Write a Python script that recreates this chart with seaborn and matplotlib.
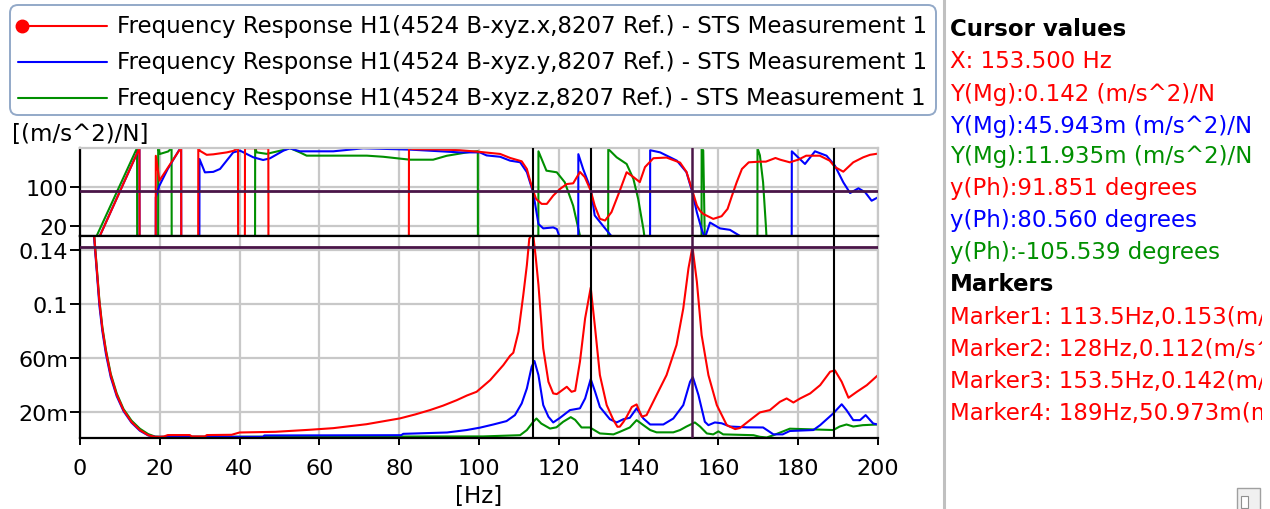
import matplotlib
matplotlib.use("Agg")
import matplotlib.pyplot as plt
import seaborn as sns
from matplotlib.lines import Line2D
from matplotlib.patches import FancyBboxPatch, Rectangle

# ---------------- data ----------------
series_names = [
    "Frequency Response H1(4524 B-xyz.x,8207 Ref.) - STS Measurement 1",
    "Frequency Response H1(4524 B-xyz.y,8207 Ref.) - STS Measurement 1",
    "Frequency Response H1(4524 B-xyz.z,8207 Ref.) - STS Measurement 1",
]
series_colors = ["#ff0000", "#0000ff", "#008f00"]

# magnitude, (m/s^2)/N in milli-units: (Hz, value)
mag_red = [(3.0, 210), (3.5, 152), (4.2, 126), (4.85, 102), (5.6, 82), (6.5, 65), (7.7, 47.5),
           (9.2, 33), (10.9, 21.7), (12.9, 13), (15.0, 7), (17.1, 3.2), (18.8, 2.0), (20.0, 2.0),
           (21.0, 2.2), (22.0, 3.3), (27.5, 3.3), (28.0, 2.3), (31.3, 2.3), (31.8, 3.3), (38.0, 3.5),
           (40.0, 5.2), (49.0, 5.7), (57.6, 7.2), (63.5, 8.4), (71.8, 11.3), (80.2, 15.6), (84.0, 18.5),
           (87.7, 21.7), (91.0, 25.0), (94.4, 29.0), (97.0, 32.5), (99.4, 35.2), (102.8, 43.8),
           (106.1, 54.9), (107.8, 61.8), (108.6, 64.0), (109.9, 79.5), (111.1, 106.6), (112.0, 128.7),
           (112.6, 148), (113.5, 153), (114.2, 135), (114.9, 114), (116.1, 67.2), (117.4, 42.6),
           (118.6, 34), (119.5, 33.5), (120.3, 35.2), (122.0, 38.9), (123.2, 35.2), (124.1, 36),
           (125.3, 57.4), (126.6, 89.4), (128.0, 112), (129.1, 82), (130.3, 47.5), (132.0, 25.4),
           (133.7, 14.3), (134.7, 9.4), (135.3, 9.5), (136.2, 13), (137.0, 16.8), (138.3, 24),
           (139.5, 25.9), (140.8, 16.8), (142.0, 18), (144.5, 32.8), (147.0, 47.5), (149.5, 69.7),
           (151.2, 96.7), (152.5, 126.3), (153.5, 142), (154.6, 116.4), (155.8, 77), (157.5, 47.5),
           (159.6, 25.4), (162.1, 10.6), (164.2, 7.7), (165.4, 8.5), (167.9, 14.3), (170.4, 20),
           (172.9, 21.7), (175.4, 27.8), (177.1, 30.3), (178.8, 27.3), (180.5, 30.3), (183.0, 34),
           (185.5, 40.1), (188.0, 50), (189.2, 51), (190.9, 42.6), (192.6, 30.8), (194.7, 35.2),
           (197.2, 40.1), (200.0, 47.5)]

mag_blue = [(3.0, 205), (3.5, 150), (4.2, 124), (4.85, 99), (5.6, 80), (6.5, 63), (7.7, 46),
            (9.2, 32), (10.9, 21), (12.9, 12.5), (15.0, 6.5), (17.1, 3.0), (18.8, 2.0), (45.9, 2.0),
            (46.2, 3.0), (80.5, 3.2), (81.0, 4.2), (92.0, 5.2), (96.9, 7), (100.3, 8.8), (103.6, 11.1),
            (106.9, 13.6), (109.0, 18), (110.7, 26.6), (112.0, 37.7), (113.2, 53.7), (113.9, 57.9),
            (114.9, 47.5), (116.1, 25.4), (117.4, 16.8), (118.6, 12.6), (120.3, 16), (122.8, 21.7),
            (125.3, 23), (126.6, 30.3), (128.0, 44.6), (129.1, 35.2), (130.3, 24), (132.8, 15),
            (134.5, 12.6), (136.2, 15), (137.8, 16), (139.5, 23), (141.2, 15.5), (142.9, 11.1),
            (146.2, 11.1), (148.7, 15.5), (151.2, 25.4), (152.9, 42.6), (153.6, 46), (155.0, 32.8),
            (156.6, 13.1), (157.5, 10.6), (159.1, 12.6), (160.8, 12), (162.9, 9.6), (167.1, 9),
            (171.2, 8.9), (173.8, 3.8), (176.1, 3.8), (177.9, 6.3), (183.8, 7), (185.5, 10.6),
            (188.8, 19.3), (190.9, 26), (192.1, 21.7), (193.8, 14.3), (195.5, 14.3), (196.9, 18),
            (198.8, 11.8), (200.0, 11.1)]

mag_green = [(3.0, 212), (3.5, 153), (4.2, 127), (4.85, 103), (5.6, 83), (6.5, 66), (7.7, 48.5),
             (9.2, 34), (10.9, 22.5), (12.9, 14), (15.0, 8), (17.1, 4), (18.8, 2.2), (20.0, 2.0),
             (101.0, 2.3), (110.3, 3.2), (112.0, 7), (113.6, 13.1), (114.4, 15.5), (115.6, 11.8),
             (117.8, 8.1), (119.4, 9), (121.1, 13.1), (123.0, 16.5), (124.1, 14.5), (125.7, 8.9),
             (127.8, 8.9), (130.3, 4.5), (133.7, 3.8), (135.3, 5.7), (137.8, 8.9), (139.5, 14.3),
             (141.2, 10.6), (142.9, 7), (144.5, 5.3), (148.7, 5.3), (150.4, 7), (152.0, 9.6),
             (154.1, 12.6), (155.4, 9.6), (157.1, 4.5), (158.7, 3.8), (160.0, 6), (161.2, 3.8),
             (168.8, 3.2), (170.4, 2.0), (172.1, 1.5), (173.8, 3.2), (177.9, 8), (188.8, 7),
             (190.4, 9.6), (192.1, 11.1), (193.8, 9.6), (196.2, 10.6), (200.0, 11.1)]

# phase, degrees (wrapped; values below 0 fall outside the displayed 0..180 band)
phase_red = [(3.0, -40), (5.0, 0), (14.9, 180), (14.95, -150), (18.95, -150), (19.0, 164), (19.9, 113),
             (25.1, 178), (25.35, 180), (25.4, -150), (29.6, -150), (29.65, 180), (30.1, 174),
             (31.75, 166), (33.4, 167), (36.8, 171), (38.4, 174), (39.6, 179.5), (39.65, -150),
             (41.3, -150), (41.35, 179.6), (47.2, 179.6), (47.25, -150), (82.4, -150), (82.45, 179),
             (84.0, 177.5), (90.0, 177), (95.2, 175.5), (100.2, 172), (105.3, 167.8), (107.8, 159.6),
             (110.7, 152.7), (112.0, 136.9), (112.8, 113), (113.5, 94), (114.3, 75.5), (115.7, 65.3),
             (117.0, 65.3), (118.6, 82.3), (120.3, 96), (122.0, 106), (123.6, 107.5), (125.3, 130.8),
             (126.5, 120.4), (128.0, 92.6), (129.0, 61.8), (130.3, 34.6), (131.6, 31.2), (133.2, 48.3),
             (135.3, 92.6), (137.0, 130.3), (138.7, 120.4), (140.3, 110), (141.6, 140.8), (143.7, 159),
             (147.0, 160.4), (150.4, 150), (152.0, 131), (153.5, 91.85), (154.6, 62), (155.4, 51),
             (156.2, 44.7), (158.7, 34.5), (160.8, 40), (162.3, 55), (163.4, 82), (164.6, 110),
             (165.9, 137), (167.6, 150.6), (170.4, 152), (171.9, 152), (174.3, 159.5), (175.5, 156),
             (177.9, 150.6), (180.0, 156), (182.0, 164.2), (185.4, 164.2), (187.9, 154), (189.2, 141),
             (191.3, 131.4), (193.8, 150.6), (196.3, 160.9), (198.0, 166), (200.0, 168.5)]

phase_blue = [(3.0, -40), (5.0, 0), (14.9, 180), (14.95, -150), (18.95, -150), (19.0, 78.7),
              (19.9, 102.8), (22.0, 137), (25.0, 178), (25.35, 180), (25.4, -150), (29.9, -150),
              (29.95, 157.4), (31.3, 130), (33.4, 131), (35.1, 137), (38.4, 171), (40.1, 174.6),
              (43.4, 161), (45.9, 155.4), (47.6, 158.8), (51.0, 174.6), (52.6, 179.4), (55.1, 173.2),
              (63.5, 173.2), (71.0, 179.4), (82.7, 176.7), (95.2, 171), (100.2, 171), (101.9, 164.8),
              (105.3, 162), (107.8, 154), (110.3, 150.8), (112.0, 130.3), (113.3, 96), (114.0, 68.5),
              (114.9, 24), (116.1, 15), (118.6, 17), (119.5, 13.7), (120.3, -5), (120.5, -150),
              (124.85, -150), (124.9, 167.3), (126.1, 136.9), (128.0, 96), (129.0, 41.6), (131.1, 20.1),
              (133.6, -5), (133.8, -150), (142.85, -150), (142.9, 175.5), (145.4, 171), (149.6, 154),
              (152.0, 130.3), (153.5, 88), (154.6, 48), (155.8, 13.3), (156.6, -5), (157.9, 27),
              (160.4, 15), (162.9, 12), (166.3, -5), (166.5, -150), (178.35, -150), (178.4, 173.2),
              (181.7, 147.2), (184.2, 173.2), (187.1, 164.2), (189.2, 143.7), (191.3, 109.6),
              (193.0, 87.6), (195.1, 97.3), (196.8, 89), (198.4, 71.8), (200.0, 78.8)]

phase_green = [(3.0, -40), (4.2, 0), (14.3, 180), (14.35, -150), (19.55, -150), (19.6, 180),
               (20.0, 167.7), (22.1, 172.9), (22.95, 180), (23.0, -150), (43.85, -150), (43.9, 180),
               (44.3, 171), (46.8, 168), (51.0, 176), (52.6, 179.8), (55.1, 171), (56.8, 164.3),
               (71.9, 164.3), (76.0, 162), (82.7, 156), (88.5, 156), (91.9, 164), (97.7, 172),
               (99.7, 173.5), (99.75, -150), (114.85, -150), (114.9, 173.2), (116.9, 133.5),
               (119.5, 130.1), (121.5, 109.6), (123.6, 61.6), (125.3, 0), (125.5, -150),
               (132.35, -150), (132.4, 178), (134.5, 160.9), (137.0, 147.2), (138.7, 116.4),
               (139.9, 75.3), (141.2, 13.7), (141.6, -10), (141.8, -150), (155.75, -150), (155.8, 180),
               (156.2, 175), (156.6, -10), (156.8, -150), (169.75, -150), (169.8, 180), (170.4, 165),
               (171.2, 109.6), (171.9, 20.5), (172.1, -10), (172.3, -150), (200.0, -150)]

marker_freqs = [113.5, 128.0, 189.0]
cursor_freq = 153.5
cursor_mag = 0.142
cursor_phase = 91.851

x_ticks = [0, 20, 40, 60, 80, 100, 120, 140, 160, 180, 200]
mag_ticks = [0.02, 0.06, 0.1, 0.14]
mag_tick_labels = ["20m", "60m", "0.1", "0.14"]
phase_ticks = [20, 100]
phase_tick_labels = ["20", "100"]

cursor_lines = [
    ("Cursor values", "black", "bold"),
    ("X: 153.500 Hz", "#ff0000", "normal"),
    ("Y(Mg):0.142 (m/s^2)/N", "#ff0000", "normal"),
    ("Y(Mg):45.943m (m/s^2)/N", "#0000ff", "normal"),
    ("Y(Mg):11.935m (m/s^2)/N", "#008f00", "normal"),
    ("y(Ph):91.851 degrees", "#ff0000", "normal"),
    ("y(Ph):80.560 degrees", "#0000ff", "normal"),
    ("y(Ph):-105.539 degrees", "#008f00", "normal"),
    ("Markers", "black", "bold"),
    ("Marker1: 113.5Hz,0.153(m/s^2)/N", "#ff0000", "normal"),
    ("Marker2: 128Hz,0.112(m/s^2)/N", "#ff0000", "normal"),
    ("Marker3: 153.5Hz,0.142(m/s^2)/N", "#ff0000", "normal"),
    ("Marker4: 189Hz,50.973m(m/s^2)/N", "#ff0000", "normal"),
]

# ---------------- figure ----------------
sns.set_theme(style="white")
plt.rcParams['font.family'] = ['DejaVu Sans']
plt.rcParams['text.color'] = 'black'
plt.rcParams['xtick.labelcolor'] = 'black'
plt.rcParams['ytick.labelcolor'] = 'black'

W, H = 1270, 510
fig = plt.figure(figsize=(W / 100, H / 100), dpi=100)
fig.patch.set_facecolor("white")

GRID = "#c8c8c8"
PURPLE = "#4a1548"
FS = 16.5
TFS = 16

ax_ph = fig.add_axes([80 / W, 1 - 236.7 / H, 798 / W, 87.7 / H])
ax_mg = fig.add_axes([80 / W, 1 - 438.5 / H, 798 / W, (438.5 - 236.7) / H])

mags = [mag_red, mag_blue, mag_green]
phases = [phase_red, phase_blue, phase_green]
for idx in [2, 1, 0]:
    f, v = zip(*mags[idx])
    sns.lineplot(x=list(f), y=[m / 1000 for m in v], ax=ax_mg, color=series_colors[idx],
                 linewidth=1.5, estimator=None, sort=False, legend=False, zorder=2)
    f, p = zip(*phases[idx])
    sns.lineplot(x=list(f), y=list(p), ax=ax_ph, color=series_colors[idx],
                 linewidth=1.5, estimator=None, sort=False, legend=False, zorder=2)

for ax in (ax_ph, ax_mg):
    ax.set_xlim(0, 200)
    ax.set_xticks(x_ticks)
    ax.set_axisbelow(True)
    ax.grid(True, color=GRID, linewidth=1.6)
    ax.set_xlabel("")
    ax.set_ylabel("")
    for fm in marker_freqs:
        ax.axvline(fm, color="black", linewidth=1.5, zorder=3)
    ax.axvline(cursor_freq, color=PURPLE, linewidth=1.8, zorder=3)
    for s in ("top", "right"):
        ax.spines[s].set_color(GRID)
        ax.spines[s].set_linewidth(1.6)
    for s in ("left", "bottom"):
        ax.spines[s].set_color("black")
        ax.spines[s].set_linewidth(1.6)
    ax.tick_params(axis="y", direction="out", length=7, width=1.4, color="black",
                   labelcolor="black", labelsize=TFS, pad=1.5, left=True)

ax_ph.set_ylim(0, 180)
ax_ph.set_yticks(phase_ticks)
ax_ph.set_yticklabels(phase_tick_labels)
ax_ph.tick_params(axis="x", length=0, labelbottom=False)
ax_ph.axhline(cursor_phase, color=PURPLE, linewidth=2.0, zorder=3)

ax_mg.set_ylim(0.0015, 0.1503)
ax_mg.set_yticks(mag_ticks)
ax_mg.set_yticklabels(mag_tick_labels)
ax_mg.spines["top"].set_color("black")
ax_mg.tick_params(axis="x", direction="out", length=5, width=1.4, color="black",
                  labelcolor="black", labelsize=TFS, pad=10, bottom=True)
ax_mg.axhline(cursor_mag, color=PURPLE, linewidth=2.0, zorder=3)

# overlay in pixel coordinates
ov = fig.add_axes([0, 0, 1, 1], zorder=-1)
ov.set_xlim(0, W)
ov.set_ylim(H, 0)
ov.axis("off")
ov.patch.set_visible(False)

ov.text(12, 135, "[(m/s^2)/N]", fontsize=TFS + 0.5, ha="left", va="center", color="black")
ov.text(479, 497, "[Hz]", fontsize=TFS + 0.5, ha="center", va="center", color="black")

# legend box
ov.add_patch(FancyBboxPatch((10, 6), 926, 110, boxstyle="round,pad=0,rounding_size=8",
                            facecolor="white", edgecolor="#93a9c8", linewidth=1.4))
for i, (name, col) in enumerate(zip(series_names, series_colors)):
    yy = 27 + 36 * i
    ov.add_line(Line2D([18, 107], [yy, yy], color=col, linewidth=1.5))
    if i == 0:
        ov.plot([22], [yy], marker="o", markersize=9, color=col)
    ov.text(117, yy, name, fontsize=FS, ha="left", va="center", color="black")

# separator and small button
ov.add_line(Line2D([944, 944], [0, H], color="#c0c0c0", linewidth=2.2))
ov.add_patch(Rectangle((1237, 489), 23, 22, facecolor="#f0f0f0", edgecolor="#a0a0a0", linewidth=1))
ov.add_patch(Rectangle((1241, 497), 7, 12, facecolor="white", edgecolor="#909090", linewidth=0.8))

# cursor panel (clipped on the right like the reference)
tx = fig.add_axes([946 / W, 0, (1262 - 946) / W, 1])
tx.set_xlim(946, 1262)
tx.set_ylim(H, 0)
tx.axis("off")
tx.patch.set_visible(False)
ys = [30, 61, 94, 126, 157, 189, 221, 253, 285, 318, 350, 382, 414]
for (txt, col, wt), yy in zip(cursor_lines, ys):
    tx.text(950, yy, txt, fontsize=FS, color=col, fontweight=wt, ha="left", va="center",
            clip_on=True)

fig.savefig("out.png", dpi=100, facecolor="white")
